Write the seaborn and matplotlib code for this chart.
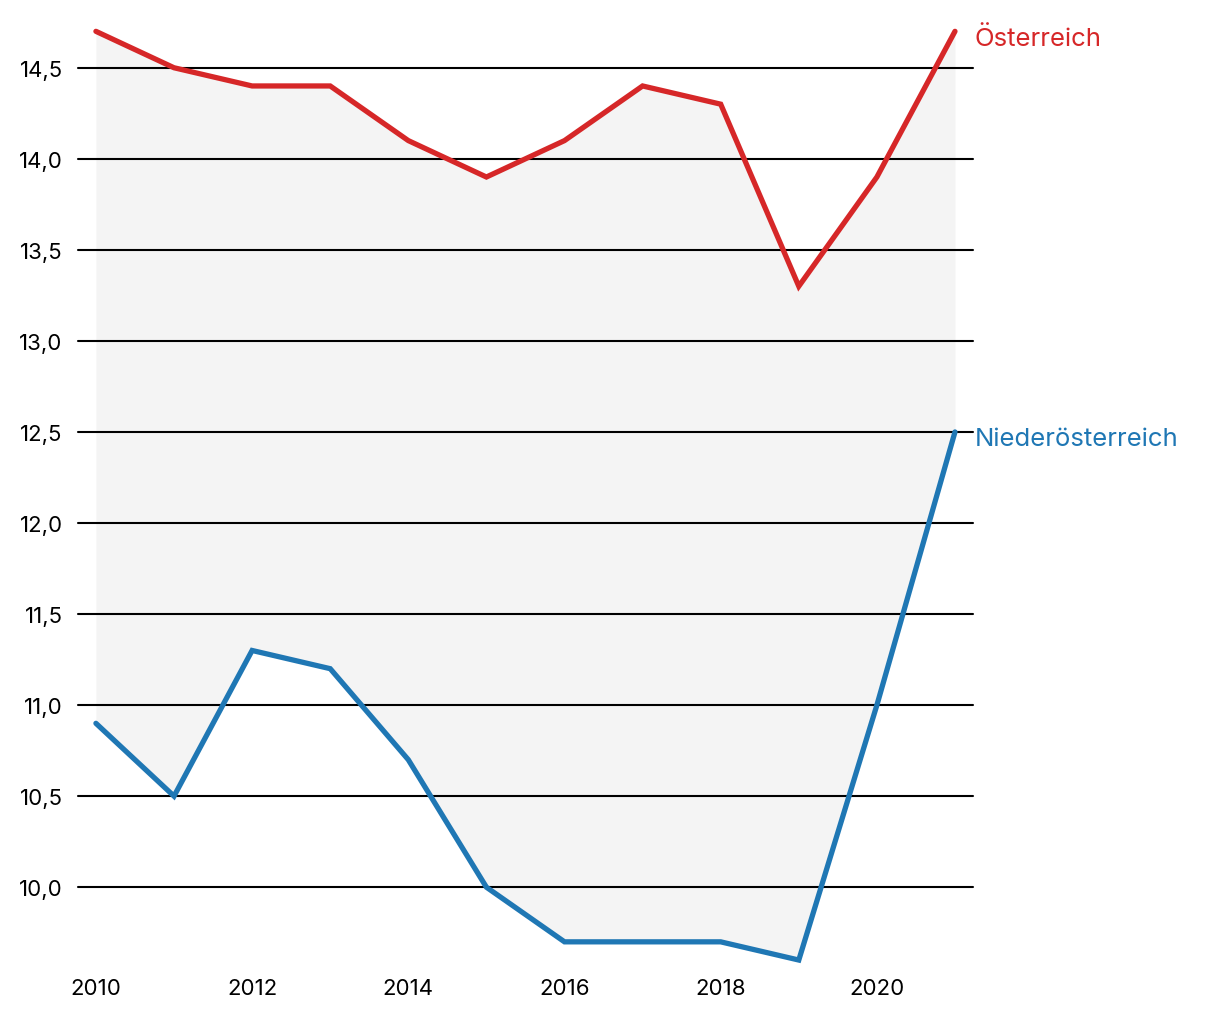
import matplotlib
matplotlib.use("Agg")
import matplotlib.pyplot as plt
import seaborn as sns
import pandas as pd

years = [2010, 2011, 2012, 2013, 2014, 2015, 2016, 2017, 2018, 2019, 2020, 2021]
oesterreich = [14.7, 14.5, 14.4, 14.4, 14.1, 13.9, 14.1, 14.4, 14.3, 13.3, 13.9, 14.7]
niederoesterreich = [10.9, 10.5, 11.3, 11.2, 10.7, 10.0, 9.7, 9.7, 9.7, 9.6, 11.0, 12.5]
series_names = ["Österreich", "Niederösterreich"]
colors = ["#d62728", "#1f77b4"]
xticks = [2010, 2012, 2014, 2016, 2018, 2020]
yticks = [10.0, 10.5, 11.0, 11.5, 12.0, 12.5, 13.0, 13.5, 14.0, 14.5]

sns.set_theme(style="white")
plt.rcParams["font.family"] = ["Inter", "DejaVu Sans"]

df = pd.DataFrame({
    "Jahr": years * 2,
    "Wert": oesterreich + niederoesterreich,
    "Region": [series_names[0]] * len(years) + [series_names[1]] * len(years),
})

fig = plt.figure(figsize=(12.2, 10.2), dpi=100)
ax = fig.add_axes([0.0639, 0.0578, 0.7336, 0.9105])

ax.fill_between(years, oesterreich, niederoesterreich, color="#f4f4f4", zorder=0, linewidth=0)
for y in yticks:
    ax.axhline(y, color="black", linewidth=1.5, zorder=1)

sns.lineplot(data=df, x="Jahr", y="Wert", hue="Region", palette=colors,
             hue_order=series_names, linewidth=3.8, legend=False, ax=ax, zorder=3)
for line in ax.lines:
    line.set_clip_on(False)
    line.set_solid_capstyle("round")
    line.set_solid_joinstyle("miter")

ax.set_xlim(2009.77, 2021.23)
ax.set_ylim(9.6, 14.7)
ax.set_xticks(xticks)
ax.set_xticklabels([str(x) for x in xticks])
ax.set_yticks(yticks)
ax.set_yticklabels([f"{y:.1f}".replace(".", ",") for y in yticks])
ax.tick_params(axis="both", length=0, labelsize=16, colors="black")
ax.tick_params(axis="y", pad=11)
ax.tick_params(axis="x", pad=13)
ax.set_xlabel("")
ax.set_ylabel("")
for s in ax.spines.values():
    s.set_visible(False)

ax.annotate(series_names[0], (years[-1], oesterreich[-1]), xytext=(14, -5),
            textcoords="offset points", color=colors[0], fontsize=18.5, va="center", ha="left",
            annotation_clip=False)
ax.annotate(series_names[1], (years[-1], niederoesterreich[-1]), xytext=(14, -5),
            textcoords="offset points", color=colors[1], fontsize=18.5, va="center", ha="left",
            annotation_clip=False)

fig.savefig("out.png", dpi=100)
